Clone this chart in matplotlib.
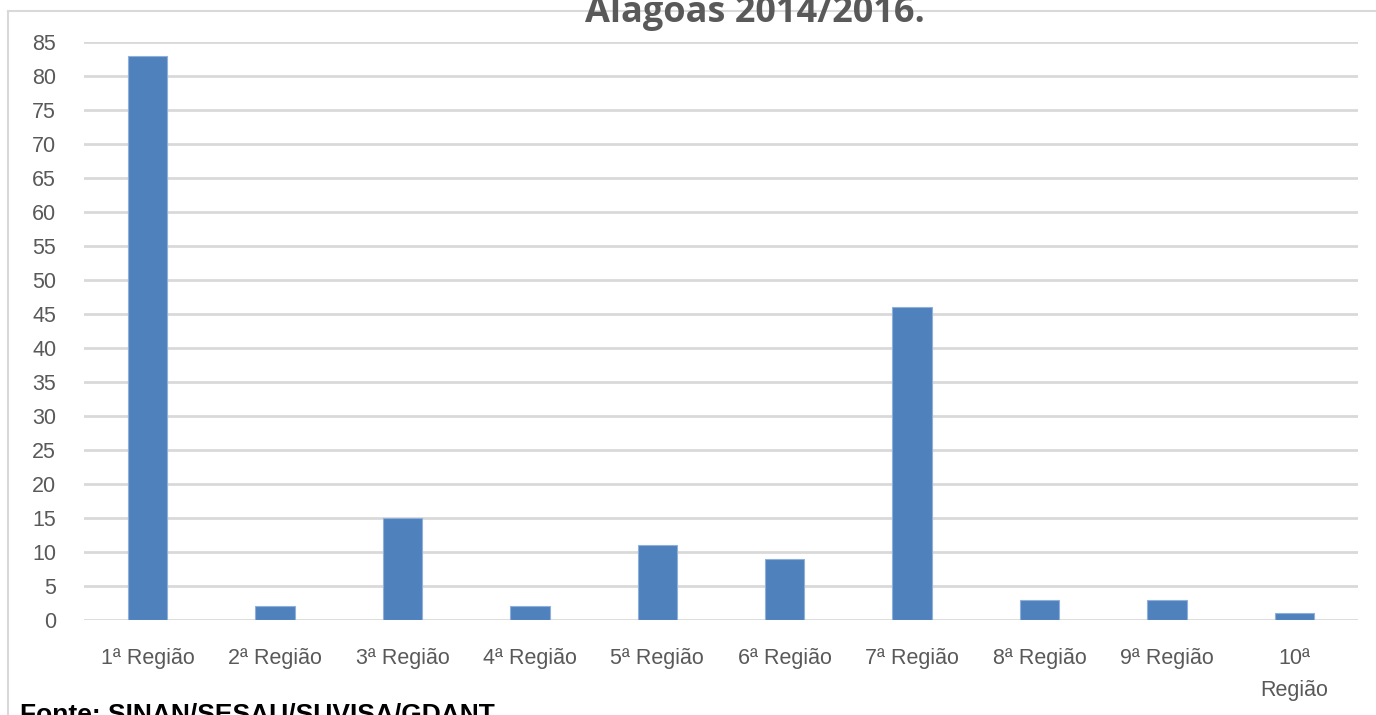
import matplotlib
matplotlib.use("Agg")
import matplotlib.pyplot as plt
from matplotlib.lines import Line2D

regioes = ["1ª Região", "2ª Região", "3ª Região", "4ª Região", "5ª Região",
           "6ª Região", "7ª Região", "8ª Região", "9ª Região", "10ª\nRegião"]
casos = [83, 2, 15, 2, 11, 9, 46, 3, 3, 1]
yticks = list(range(0, 90, 5))

fig = plt.figure(figsize=(13.76, 7.15), dpi=100)
ax = fig.add_axes([0.061, 0.1329, 0.926, 0.8084])

x = range(len(casos))
ax.bar(x, casos, width=0.31, color="#4F81BD", edgecolor="#8FB0DA", linewidth=0.8, zorder=3)

ax.set_xlim(-0.5, len(casos) - 0.5)
ax.set_ylim(0, 85)
ax.set_yticks(yticks)
ax.set_xticks(list(x))
ax.set_xticklabels(regioes, linespacing=1.7)
ax.tick_params(axis="both", length=0, labelsize=15.5, colors="#595959")
ax.tick_params(axis="x", pad=20)
ax.tick_params(axis="y", pad=20)
for lab in ax.get_xticklabels() + ax.get_yticklabels():
    lab.set_family("Liberation Sans")
ax.grid(axis="y", color="#D9D9D9", linewidth=2, zorder=0)
for s in ax.spines.values():
    s.set_visible(False)

# outer chart border (left and top)
fig.add_artist(Line2D([8 / 1376, 8 / 1376], [0, 1 - 11 / 715], transform=fig.transFigure,
                      color="#D9D9D9", linewidth=1.5))
fig.add_artist(Line2D([8 / 1376, 1], [1 - 11 / 715, 1 - 11 / 715], transform=fig.transFigure,
                      color="#D9D9D9", linewidth=1.5))

fig.text(755 / 1376, 1 - 22 / 715, "Alagoas 2014/2016.", ha="center", va="baseline",
         fontsize=26, fontweight="bold", color="#595959", family="Open Sans")
fig.text(20 / 1376, 1 - 721 / 715, "Fonte: SINAN/SESAU/SUVISA/GDANT", ha="left", va="baseline",
         fontsize=19, fontweight="bold", color="black", family="Liberation Sans")

fig.savefig("out.png", dpi=100)
